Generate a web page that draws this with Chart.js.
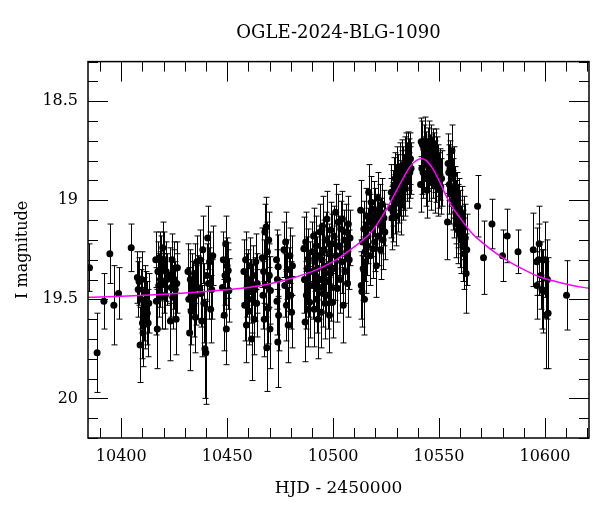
<!DOCTYPE html>
<html>
<head>
<meta charset="utf-8">
<script src="https://cdn.jsdelivr.net/npm/chart.js@4.4.0/dist/chart.umd.min.js"></script>
<style>
  body { margin: 0; background: #fff; }
  canvas { display: block; }
</style>
</head>
<body>
<canvas id="lc" width="600" height="512"></canvas>
<script>
'use strict'

const eventName = 'OGLE-2024-BLG-1090';

// photometry: HJD - 2450000, I mag, error
const hjd = [
    10385.0, 10388.6, 10391.8, 10394.6, 10396.5, 10398.7, 10404.7,
    10407.6, 10408.0, 10408.4, 10408.9, 10409.3, 10409.6, 10410.0, 10410.3, 10410.7, 10411.0, 10411.4, 10411.9, 10412.3, 10412.7, 10413.0,
    10416.3, 10416.6, 10417.0, 10417.3, 10417.7, 10418.1, 10418.5, 10418.9, 10419.2, 10419.6, 10420.0, 10420.4, 10420.8, 10421.2, 10421.6,
    10422.8, 10423.2, 10423.6, 10424.0, 10424.3, 10424.7, 10425.1, 10425.5, 10425.9, 10426.2, 10426.5,
    10431.5, 10431.9, 10432.3, 10432.6, 10433.0, 10433.4, 10433.8, 10434.2, 10434.6, 10435.0, 10435.3, 10435.7, 10436.0,
    10437.2, 10437.6, 10438.0, 10438.5, 10439.0, 10439.5, 10439.9, 10440.3, 10440.8, 10441.2, 10441.7, 10442.2, 10442.7, 10443.2,
    10447.8, 10448.2, 10448.6, 10449.0, 10449.3, 10449.6, 10449.9, 10450.2, 10450.5, 10450.8,
    10457.9, 10458.3, 10458.7, 10459.1, 10459.5, 10459.9, 10460.3, 10460.7, 10461.1, 10461.5, 10461.9, 10462.3, 10462.7, 10463.1, 10463.5, 10463.9, 10464.2,
    10466.6, 10466.9, 10467.2, 10467.5, 10467.8, 10468.1, 10468.4, 10468.7, 10469.0, 10469.3, 10469.6, 10469.9, 10470.2, 10470.4,
    10473.3, 10473.5, 10473.7, 10473.9, 10474.1, 10474.3,
    10476.8, 10477.2, 10477.6, 10478.0, 10478.4, 10478.8, 10479.2, 10479.6, 10480.0, 10480.4, 10480.8,
    10486.2, 10486.5, 10486.8, 10487.1, 10487.4, 10487.7, 10488.0, 10488.3, 10488.6, 10488.9, 10489.2,
    10490.2, 10490.5, 10490.8, 10491.1, 10491.4, 10491.7, 10492.0, 10492.3, 10492.6, 10492.9, 10493.2, 10493.5, 10493.8, 10494.1, 10494.4, 10494.7,
    10495.0, 10495.3, 10495.6, 10495.9, 10496.2, 10496.5, 10496.8, 10497.1, 10497.4, 10497.7, 10498.0, 10498.3, 10498.6, 10498.9, 10499.2, 10499.5, 10499.8,
    10500.4, 10500.8, 10501.2, 10501.6, 10502.0, 10502.4, 10502.8, 10503.2, 10503.6, 10504.0, 10504.4, 10504.8, 10505.2, 10505.6, 10506.0, 10506.4, 10506.8, 10507.2, 10507.6, 10508.0,
    10513.0, 10513.3, 10513.6, 10513.9, 10514.2, 10514.5, 10514.8, 10515.1, 10515.4, 10515.7, 10516.0, 10516.4, 10516.8, 10517.2, 10517.6, 10518.0,
    10518.4, 10518.8, 10519.2, 10519.6, 10520.0, 10520.4, 10520.8, 10521.2, 10521.6, 10522.0, 10522.4, 10522.8, 10523.2, 10523.6, 10524.0, 10524.4,
    10527.2, 10527.5, 10527.8, 10528.1, 10528.4, 10528.7, 10529.0, 10529.3, 10529.6, 10529.9, 10530.2, 10530.5, 10530.8, 10531.1, 10531.4, 10531.7, 10532.0,
    10532.3, 10532.6, 10532.9, 10533.2, 10533.5, 10533.8, 10534.1, 10534.4, 10534.7, 10535.0, 10535.3, 10535.6, 10535.9, 10536.2, 10536.5, 10536.8,
    10541.3, 10541.6, 10541.9, 10542.2, 10542.5, 10542.8, 10543.1, 10543.4, 10543.7, 10544.0, 10544.3, 10544.6, 10544.9, 10545.2, 10545.5, 10545.8, 10546.1,
    10546.4, 10546.7, 10547.0, 10547.3, 10547.6, 10547.9, 10548.2, 10548.5, 10548.8, 10549.1, 10549.4, 10549.7, 10550.0, 10550.4, 10550.8, 10551.2,
    10554.0, 10554.3, 10554.6, 10554.9, 10555.2, 10555.5, 10555.8, 10556.1, 10556.4, 10556.7, 10557.0, 10557.3, 10557.6, 10557.9, 10558.2,
    10558.5, 10558.8, 10559.1, 10559.4, 10559.7, 10560.0, 10560.4, 10560.8, 10561.2, 10561.6, 10562.0, 10562.4, 10562.8, 10563.1,
    10568.2, 10571.0, 10575.0, 10580.0, 10582.2, 10587.3,
    10594.5, 10596.1, 10596.2, 10597.0, 10597.3, 10598.1, 10598.6, 10599.3, 10600.1, 10600.4, 10601.2, 10601.5, 10610.2
];
const mag = [
    19.34, 19.77, 19.51, 19.27, 19.53, 19.47, 19.24,
    19.39, 19.45, 19.41, 19.73, 19.50, 19.40, 19.62, 19.67, 19.55, 19.46, 19.60, 19.50, 19.57, 19.62, 19.52,
    19.30, 19.51, 19.65, 19.36, 19.43, 19.29, 19.40, 19.33, 19.49, 19.24, 19.42, 19.30, 19.48, 19.36, 19.40,
    19.38, 19.61, 19.44, 19.30, 19.49, 19.35, 19.40, 19.45, 19.60, 19.42, 19.34,
    19.36, 19.50, 19.67, 19.40, 19.56, 19.42, 19.45, 19.53, 19.37, 19.59, 19.48, 19.31, 19.44,
    19.30, 19.47, 19.61, 19.25, 19.52, 19.75, 19.77, 19.38, 19.19, 19.42, 19.31, 19.55, 19.45, 19.28,
    19.44, 19.30, 19.58, 19.38, 19.22, 19.65, 19.33, 19.40, 19.355, 19.455,
    19.36, 19.53, 19.30, 19.63, 19.43, 19.40, 19.56, 19.33, 19.46, 19.70, 19.50, 19.38, 19.60, 19.45, 19.31, 19.52, 19.42,
    19.29, 19.48, 19.36, 19.60, 19.16, 19.43, 19.135, 19.745, 19.26, 19.545, 19.20, 19.38, 19.65, 19.455,
    19.30, 19.51, 19.40, 19.715, 19.335, 19.58,
    19.25, 19.43, 19.21, 19.53, 19.35, 19.63, 19.40, 19.28, 19.48, 19.565, 19.33,
    19.245, 19.40, 19.615, 19.21, 19.48, 19.345, 19.55, 19.295, 19.43, 19.515, 19.36,
    19.26, 19.43, 19.18, 19.55, 19.31, 19.38, 19.23, 19.50, 19.345, 19.60, 19.28, 19.44, 19.16, 19.40, 19.565, 19.30,
    19.13, 19.47, 19.25, 19.36, 19.52, 19.20, 19.41, 19.095, 19.33, 19.48, 19.27, 19.58, 19.37, 19.15, 19.44, 19.22, 19.515,
    19.18, 19.345, 19.06, 19.28, 19.445, 19.11, 19.23, 19.40, 19.145, 19.31, 19.095, 19.53, 19.20, 19.36, 19.16, 19.26, 19.42, 19.12, 19.30, 19.19,
    19.05, 19.43, 19.46, 19.21, 19.345, 19.145, 19.50, 19.26, 19.31, 19.08, 19.23, 19.18, 18.96, 19.11, 19.28, 19.01,
    19.145, 19.245, 19.045, 19.21, 19.08, 19.33, 19.11, 18.99, 19.18, 19.06, 19.25, 19.13, 19.02, 19.20, 19.09, 19.16,
    19.04, 18.96, 19.09, 18.99, 19.06, 18.925, 19.02, 18.89, 19.08, 18.96, 18.86, 19.01, 18.91, 18.975, 18.84, 18.94, 19.025,
    18.88, 18.825, 18.96, 18.86, 18.91, 18.81, 18.94, 18.79, 18.875, 18.84, 18.775, 18.90, 18.82, 18.86, 18.79, 18.84,
    18.92, 18.705, 18.84, 18.72, 18.86, 18.74, 18.81, 18.70, 18.89, 18.775, 18.95, 18.755, 18.825, 18.72, 18.875, 18.79, 18.74,
    18.91, 18.81, 18.76, 18.86, 18.79, 18.925, 18.83, 18.76, 18.88, 18.81, 18.94, 18.85, 18.90, 18.87, 18.93, 18.89,
    19.11, 18.815, 18.86, 18.92, 18.84, 18.97, 18.89, 18.75, 18.94, 19.00, 18.87, 19.03, 18.98, 19.06, 19.12,
    19.01, 19.08, 19.15, 19.04, 19.17, 19.11, 19.20, 19.09, 19.23, 19.14, 19.27, 19.19, 19.37, 19.25,
    19.03, 19.29, 19.12, 19.28, 19.18, 19.26,
    19.25, 19.31, 19.43, 19.30, 19.22, 19.38, 19.45, 19.46, 19.30, 19.58, 19.40, 19.57, 19.48
];
const magErr = [
    0.12, 0.20, 0.14, 0.15, 0.20, 0.13, 0.12,
    0.13, 0.14, 0.12, 0.19, 0.15, 0.14, 0.18, 0.17, 0.16, 0.13, 0.15, 0.14, 0.16, 0.17, 0.15,
    0.14, 0.17, 0.20, 0.15, 0.16, 0.13, 0.14, 0.15, 0.16, 0.13, 0.15, 0.14, 0.17, 0.15, 0.13,
    0.14, 0.20, 0.15, 0.13, 0.16, 0.14, 0.15, 0.14, 0.18, 0.15, 0.13,
    0.14, 0.16, 0.19, 0.15, 0.17, 0.15, 0.14, 0.16, 0.15, 0.18, 0.15, 0.13, 0.16,
    0.15, 0.17, 0.18, 0.17, 0.20, 0.25, 0.26, 0.16, 0.16, 0.18, 0.15, 0.17, 0.15, 0.15,
    0.15, 0.14, 0.18, 0.15, 0.14, 0.18, 0.14, 0.15, 0.14, 0.16,
    0.16, 0.18, 0.14, 0.19, 0.16, 0.15, 0.17, 0.14, 0.16, 0.21, 0.17, 0.15, 0.18, 0.16, 0.14, 0.17, 0.15,
    0.15, 0.17, 0.16, 0.19, 0.14, 0.16, 0.15, 0.22, 0.15, 0.18, 0.14, 0.16, 0.20, 0.17,
    0.15, 0.17, 0.15, 0.23, 0.16, 0.18,
    0.14, 0.16, 0.15, 0.18, 0.15, 0.19, 0.16, 0.14, 0.17, 0.18, 0.15,
    0.16, 0.17, 0.20, 0.15, 0.17, 0.16, 0.19, 0.15, 0.16, 0.18, 0.15,
    0.15, 0.17, 0.14, 0.19, 0.15, 0.16, 0.15, 0.17, 0.16, 0.20, 0.15, 0.16, 0.14, 0.16, 0.18, 0.15,
    0.15, 0.17, 0.15, 0.16, 0.18, 0.14, 0.16, 0.14, 0.15, 0.17, 0.15, 0.19, 0.16, 0.14, 0.17, 0.15, 0.18,
    0.15, 0.16, 0.14, 0.15, 0.17, 0.14, 0.15, 0.17, 0.14, 0.16, 0.14, 0.19, 0.15, 0.16, 0.14, 0.15, 0.17, 0.14, 0.15, 0.14,
    0.15, 0.17, 0.18, 0.15, 0.16, 0.14, 0.18, 0.15, 0.16, 0.14, 0.15, 0.14, 0.14, 0.14, 0.15, 0.13,
    0.14, 0.15, 0.14, 0.15, 0.14, 0.16, 0.14, 0.13, 0.15, 0.14, 0.15, 0.14, 0.13, 0.15, 0.14, 0.14,
    0.15, 0.14, 0.16, 0.14, 0.15, 0.14, 0.15, 0.13, 0.15, 0.14, 0.13, 0.15, 0.14, 0.14, 0.13, 0.14, 0.15,
    0.13, 0.13, 0.14, 0.13, 0.14, 0.13, 0.14, 0.13, 0.13, 0.13, 0.12, 0.14, 0.13, 0.13, 0.13, 0.13,
    0.14, 0.12, 0.13, 0.12, 0.13, 0.12, 0.13, 0.12, 0.14, 0.12, 0.14, 0.12, 0.13, 0.12, 0.13, 0.12, 0.12,
    0.14, 0.13, 0.12, 0.13, 0.13, 0.14, 0.13, 0.12, 0.13, 0.13, 0.14, 0.13, 0.14, 0.13, 0.14, 0.14,
    0.19, 0.15, 0.14, 0.15, 0.14, 0.15, 0.14, 0.13, 0.15, 0.15, 0.14, 0.16, 0.15, 0.16, 0.17,
    0.15, 0.16, 0.17, 0.15, 0.17, 0.16, 0.17, 0.16, 0.18, 0.16, 0.18, 0.17, 0.20, 0.18,
    0.155, 0.185, 0.125, 0.13, 0.135, 0.11,
    0.185, 0.17, 0.17, 0.18, 0.19, 0.17, 0.20, 0.21, 0.19, 0.27, 0.20, 0.28, 0.175
];

// model light curve
const modelHjd = [10384, 10400, 10420, 10440, 10460, 10475, 10490, 10500, 10508, 10513, 10518, 10522, 10526, 10530, 10534, 10537,
    10540, 10542, 10544, 10547, 10550, 10553, 10556, 10560, 10565, 10570, 10576, 10583, 10590, 10597, 10605, 10613, 10621];
const modelMag = [19.49, 19.485, 19.475, 19.46, 19.44, 19.41, 19.36, 19.31, 19.25, 19.21, 19.16, 19.10, 19.03, 18.95, 18.87, 18.82,
    18.795, 18.79, 18.80, 18.84, 18.90, 18.97, 19.03, 19.09, 19.16, 19.21, 19.26, 19.31, 19.35, 19.385, 19.41, 19.43, 19.445];

// axes
const xMin = 10384.3, xMax = 10620.8;
const yMin = 18.3, yMax = 20.2;
const xTicks = [10400, 10450, 10500, 10550, 10600];
const xTickLabels = ['10400', '10450', '10500', '10550', '10600'];
const yTicks = [18.5, 19, 19.5, 20];
const yTickLabels = ['18.5', '19', '19.5', '20'];
const xMinorStep = 10, yMinorStep = 0.1;

const serif = 'DejaVu Serif';

const points = hjd.map((x, i) => ({x: x, y: mag[i], e: magErr[i]}));
const model = modelHjd.map((x, i) => ({x: x, y: modelMag[i]}));

// error bars, drawn under the dots
const errorBars = {
    id: 'errorBars',
    beforeDatasetsDraw(chart) {
        const ctx = chart.ctx;
        const xs = chart.scales.x, ys = chart.scales.y;
        const area = chart.chartArea;
        ctx.save();
        ctx.beginPath();
        ctx.rect(area.left, area.top, area.right - area.left, area.bottom - area.top);
        ctx.clip();
        ctx.strokeStyle = '#000';
        ctx.lineWidth = 1;
        ctx.beginPath();
        points.forEach(p => {
            const px = Math.round(xs.getPixelForValue(p.x)) + 0.5;
            const top = ys.getPixelForValue(p.y - p.e);
            const bot = ys.getPixelForValue(p.y + p.e);
            ctx.moveTo(px, top);
            ctx.lineTo(px, bot);
            ctx.moveTo(px - 3, top);
            ctx.lineTo(px + 3, top);
            ctx.moveTo(px - 3, bot);
            ctx.lineTo(px + 3, bot);
        });
        ctx.stroke();
        ctx.restore();
    }
};

// frame with inward ticks on all four sides
const frame = {
    id: 'frame',
    afterDraw(chart) {
        const ctx = chart.ctx;
        const xs = chart.scales.x, ys = chart.scales.y;
        const {left, right, top, bottom} = chart.chartArea;
        ctx.save();
        ctx.strokeStyle = '#000';
        ctx.lineWidth = 1;
        ctx.beginPath();
        for (let v = Math.ceil(xMin / xMinorStep) * xMinorStep; v <= xMax; v += xMinorStep) {
            const px = Math.round(xs.getPixelForValue(v)) + 0.5;
            const len = v % 50 === 0 ? 20 : 10;
            ctx.moveTo(px, bottom); ctx.lineTo(px, bottom - len);
            ctx.moveTo(px, top); ctx.lineTo(px, top + len);
        }
        for (let k = Math.ceil(yMin / yMinorStep - 1e-6); k * yMinorStep <= yMax + 1e-6; k++) {
            const v = k * yMinorStep;
            const py = Math.round(ys.getPixelForValue(v)) + 0.5;
            const len = k % 5 === 0 ? 20 : 10;
            ctx.moveTo(left, py); ctx.lineTo(left + len, py);
            ctx.moveTo(right, py); ctx.lineTo(right - len, py);
        }
        ctx.stroke();
        ctx.lineWidth = 1.5;
        ctx.strokeRect(left, top, right - left, bottom - top);
        ctx.restore();
    }
};

new Chart(document.getElementById('lc'), {
    type: 'scatter',
    data: {
        datasets: [{
            label: 'model',
            data: model,
            showLine: true,
            borderColor: '#ff00ff',
            borderWidth: 1.5,
            pointRadius: 0,
            tension: 0.4,
            order: 0
        }, {
            label: 'OGLE',
            data: points,
            backgroundColor: '#000',
            borderColor: '#000',
            borderWidth: 0,
            pointRadius: 3.5,
            order: 1
        }]
    },
    options: {
        responsive: false,
        animation: false,
        events: [],
        layout: {padding: {left: 0, right: 11, top: 0, bottom: 0}},
        plugins: {
            legend: {display: false},
            tooltip: {enabled: false},
            title: {
                display: true,
                fullSize: false,
                text: eventName,
                color: '#000',
                font: {family: serif, size: 18, weight: 'normal'},
                padding: {top: 23, bottom: 17}
            }
        },
        scales: {
            x: {
                type: 'linear',
                min: xMin,
                max: xMax,
                grid: {display: false, drawTicks: false},
                border: {display: false},
                afterBuildTicks: s => { s.ticks = xTicks.map(v => ({value: v})); },
                afterFit: s => { s.height = 74; },
                ticks: {
                    color: '#000',
                    font: {family: serif, size: 16},
                    padding: 9,
                    maxRotation: 0,
                    autoSkip: false,
                    callback: (v, i) => xTickLabels[i]
                },
                title: {
                    display: true,
                    text: 'HJD - 2450000',
                    color: '#000',
                    font: {family: serif, size: 17},
                    padding: {top: 0, bottom: 13}
                }
            },
            y: {
                type: 'linear',
                reverse: true,
                min: yMin,
                max: yMax,
                grid: {display: false, drawTicks: false},
                border: {display: false},
                afterBuildTicks: s => { s.ticks = yTicks.map(v => ({value: v})); },
                afterFit: s => { s.width = 88; },
                ticks: {
                    color: '#000',
                    font: {family: serif, size: 16},
                    padding: 10,
                    autoSkip: false,
                    callback: (v, i) => yTickLabels[i]
                },
                title: {
                    display: true,
                    text: 'I magnitude',
                    color: '#000',
                    font: {family: serif, size: 16},
                    padding: {top: 13, bottom: 0}
                }
            }
        }
    },
    plugins: [errorBars, frame]
});
</script>
</body>
</html>
